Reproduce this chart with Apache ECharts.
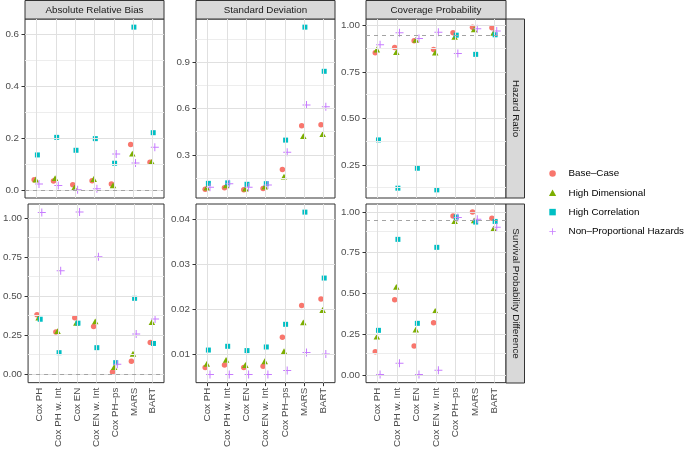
<!DOCTYPE html>
<html>
<head>
<meta charset="utf-8">
<script src="https://cdn.jsdelivr.net/npm/echarts@6/dist/echarts.min.js"></script>
<style>
  html, body { margin: 0; padding: 0; background: #fff; }
  #chart { width: 685px; height: 450px; }
</style>
</head>
<body>
<div id="chart"></div>
<script>
// categories
var methods = ['Cox PH', 'Cox PH w. Int', 'Cox EN', 'Cox EN w. Int', 'Cox PH–ps', 'MARS', 'BART']
var scenarios = ['Base–Case', 'High Dimensional', 'High Correlation', 'Non–Proportional Hazards']
var metrics = ['Absolute Relative Bias', 'Standard Deviation', 'Coverage Probability']
var estimands = ['Hazard Ratio', 'Survival Probability Difference']

// values, one row per scenario (base, high dim, high corr, non-PH), one column per method
var arbHR = [
  [0.039, 0.034, 0.020, 0.035, 0.023, 0.175, 0.107],
  [0.040, 0.045, 0.009, 0.042, 0.017, 0.140, 0.108],
  [0.135, 0.203, 0.153, 0.198, 0.103, 0.629, 0.221],
  [0.023, 0.017, 0.000, 0.004, 0.139, 0.104, 0.165]
]
var sdHR = [
  [0.079, 0.088, 0.075, 0.083, 0.207, 0.488, 0.495],
  [0.090, 0.104, 0.083, 0.096, 0.161, 0.422, 0.435],
  [0.117, 0.120, 0.111, 0.115, 0.396, 1.125, 0.840],
  [0.092, 0.115, 0.092, 0.107, 0.317, 0.622, 0.611]
]
var cpHR = [
  [0.854, 0.882, 0.918, 0.871, 0.961, 0.991, 0.988],
  [0.871, 0.857, 0.923, 0.854, 0.939, 0.979, 0.961],
  [0.386, 0.127, 0.234, 0.118, 0.948, 0.845, 0.950],
  [0.896, 0.961, 0.930, 0.964, 0.850, 0.982, 0.970]
]
var arbSPD = [
  [0.383, 0.273, 0.364, 0.307, 0.017, 0.085, 0.205],
  [0.364, 0.278, 0.331, 0.341, 0.047, 0.133, 0.335],
  [0.354, 0.140, 0.329, 0.172, 0.076, 0.488, 0.199],
  [1.038, 0.665, 1.040, 0.755, 0.066, 0.259, 0.356]
]
var sdSPD = [
  [0.00713, 0.00770, 0.00713, 0.00742, 0.01382, 0.02082, 0.02227],
  [0.00793, 0.00881, 0.00770, 0.00852, 0.01073, 0.01713, 0.01985],
  [0.01100, 0.01183, 0.01088, 0.01168, 0.01669, 0.04148, 0.02691],
  [0.00559, 0.00559, 0.00559, 0.00559, 0.00647, 0.01044, 0.01013]
]
var cpSPD = [
  [0.141, 0.460, 0.177, 0.320, 0.974, 0.998, 0.960],
  [0.234, 0.540, 0.277, 0.393, 0.943, 0.947, 0.897],
  [0.273, 0.831, 0.316, 0.782, 0.968, 0.937, 0.941],
  [0.002, 0.071, 0.002, 0.029, 0.965, 0.954, 0.905]
]

// y tick labels per panel
var arbHRTicks = [0, 0.2, 0.4, 0.6]
var sdHRTicks = [0.3, 0.6, 0.9]
var cpTicks = [0.25, 0.5, 0.75, 1]
var arbSPDTicks = [0, 0.25, 0.5, 0.75, 1]
var sdSPDTicks = [0.01, 0.02, 0.03, 0.04]
var cpSPDTicks = [0, 0.25, 0.5, 0.75, 1]

// reference lines
var biasRef = 0
var coverageRef = 0.95

var panels = [
  { row: 0, col: 0, values: arbHR, ticks: arbHRTicks, digits: 1, ref: biasRef },
  { row: 0, col: 1, values: sdHR, ticks: sdHRTicks, digits: 1, ref: null },
  { row: 0, col: 2, values: cpHR, ticks: cpTicks, digits: 2, ref: coverageRef },
  { row: 1, col: 0, values: arbSPD, ticks: arbSPDTicks, digits: 2, ref: biasRef },
  { row: 1, col: 1, values: sdSPD, ticks: sdSPDTicks, digits: 2, ref: null },
  { row: 1, col: 2, values: cpSPD, ticks: cpSPDTicks, digits: 2, ref: coverageRef }
]

var colors = ['#F8766D', '#7CAE00', '#00BFC4', '#C77CFF']
var plusPath = 'path://M7,0H9V7H16V9H9V16H7V9H0V7H7Z'
var symbols = ['circle', 'triangle', 'rect', plusPath]
var symbolSizes = [[5.5, 5.5], [6.5, 5.8], [5, 5], [8, 8]]
var dodge = [-2.4, -0.8, 0.8, 2.4]

var colLeft = [25, 196, 366]
var colWidth = [139, 139, 140]
var rowTop = [19, 204]
var rowHeight = 179
var font = 'Liberation Sans, Arial, Helvetica, sans-serif'
var fs = 9.8
var majorColor = '#E0E0E0'
var minorColor = '#EDEDED'

var grids = [], xAxes = [], yAxes = [], series = [], graphics = []

function lineLayer(i, anchor, lines, z) {
  // invisible anchor point so the markLine gets drawn
  return {
    type: 'scatter', xAxisIndex: i, yAxisIndex: i, z: z, silent: true,
    symbolSize: 0, data: [anchor], animation: false,
    markLine: { silent: true, symbol: ['none', 'none'], label: { show: false }, animation: false, data: lines }
  }
}

panels.forEach(function(p, i) {
  var all = [].concat.apply([], p.values)
  if (p.ref !== null) all.push(p.ref)
  var lo = Math.min.apply(null, all)
  var hi = Math.max.apply(null, all)
  var pad = (hi - lo) * 0.05
  var ymin = lo - pad
  var ymax = hi + pad

  grids.push({
    left: colLeft[p.col], top: rowTop[p.row], width: colWidth[p.col], height: rowHeight,
    show: true, backgroundColor: 'transparent', borderColor: '#333', borderWidth: 1, z: 0
  })

  var xIdx = methods.map(function(m, k) { return k + 1 })
  var bottom = p.row === 1
  xAxes.push({
    type: 'value', gridIndex: i, min: 0.4, max: 7.6,
    axisLine: { show: false },
    splitLine: { show: false },
    axisTick: { show: bottom, customValues: xIdx, length: 3.5, lineStyle: { color: '#333' } },
    axisLabel: {
      show: bottom, customValues: xIdx, rotate: 90, margin: 5,
      color: '#4D4D4D', fontFamily: font, fontSize: fs,
      formatter: function(v) { return methods[Math.round(v) - 1] }
    }
  })

  yAxes.push({
    type: 'value', gridIndex: i, min: ymin, max: ymax,
    axisLine: { show: false },
    splitLine: { show: false },
    axisTick: { show: true, customValues: p.ticks, length: 3.5, lineStyle: { color: '#333' } },
    axisLabel: {
      customValues: p.ticks, margin: 6,
      color: '#4D4D4D', fontFamily: font, fontSize: fs,
      formatter: function(v) { return v.toFixed(p.digits) }
    }
  })

  // theme_bw style grid: minor lines halfway between ticks, major at ticks and categories
  var step = p.ticks[1] - p.ticks[0]
  var lines = []
  for (var t = p.ticks[0] - step / 2; t <= ymax; t += step) {
    if (t >= ymin) lines.push({ yAxis: t, lineStyle: { color: minorColor, width: 1, type: 'solid' } })
  }
  p.ticks.forEach(function(v) { lines.push({ yAxis: v, lineStyle: { color: majorColor, width: 1, type: 'solid' } }) })
  xIdx.forEach(function(v) { lines.push({ xAxis: v, lineStyle: { color: majorColor, width: 1, type: 'solid' } }) })
  var anchor = [4, (ymin + ymax) / 2]
  series.push(lineLayer(i, anchor, lines, 2.1))

  if (p.ref !== null) {
    series.push(lineLayer(i, anchor, [{ yAxis: p.ref, lineStyle: { color: '#A3A3A3', width: 1, type: [4, 4] } }], 2.5))
  }

  p.values.forEach(function(vals, s) {
    series.push({
      name: scenarios[s], type: 'scatter', xAxisIndex: i, yAxisIndex: i, z: 3,
      symbol: symbols[s], symbolSize: symbolSizes[s], symbolOffset: [dodge[s], 0],
      itemStyle: { color: colors[s], opacity: 1 },
      animation: false,
      data: vals.map(function(v, k) { return [k + 1, v] })
    })
  })
})

// facet strips
metrics.forEach(function(m, c) {
  graphics.push({
    type: 'rect', shape: { x: colLeft[c], y: 0.5, width: colWidth[c], height: rowTop[0] - 0.5 },
    style: { fill: '#D9D9D9', stroke: '#333', lineWidth: 1 }
  })
  graphics.push({
    type: 'text', x: colLeft[c] + colWidth[c] / 2, y: rowTop[0] / 2 + 0.5,
    style: { text: m, fill: '#1A1A1A', font: fs + 'px ' + font, align: 'center', verticalAlign: 'middle' }
  })
})
var stripX = colLeft[2] + colWidth[2]
estimands.forEach(function(e, r) {
  graphics.push({
    type: 'rect', shape: { x: stripX, y: rowTop[r], width: 18.5, height: rowHeight },
    style: { fill: '#D9D9D9', stroke: '#333', lineWidth: 1 }
  })
  graphics.push({
    type: 'text', x: stripX + 9.5, y: rowTop[r] + rowHeight / 2, rotation: -Math.PI / 2,
    style: { text: e, fill: '#1A1A1A', font: fs + 'px ' + font, align: 'center', verticalAlign: 'middle' }
  })
})

var legendIcons = ['circle', 'path://M5,0L10,9H0Z', 'path://M0,0H10V10H0Z', plusPath]

var chart = echarts.init(document.getElementById('chart'), null, { renderer: 'canvas' })
chart.setOption({
  animation: false,
  grid: grids,
  xAxis: xAxes,
  yAxis: yAxes,
  legend: {
    data: scenarios.map(function(s, k) { return { name: s, icon: legendIcons[k] } }),
    orient: 'vertical', align: 'left',
    right: 1, top: 167.5, padding: 0,
    itemWidth: 22, itemHeight: 6.5, itemGap: 7.3,
    symbolKeepAspect: true,
    textStyle: { color: '#000', fontFamily: font, fontSize: fs, lineHeight: 12 },
    selectedMode: false
  },
  graphic: graphics,
  series: series
})
</script>
</body>
</html>
